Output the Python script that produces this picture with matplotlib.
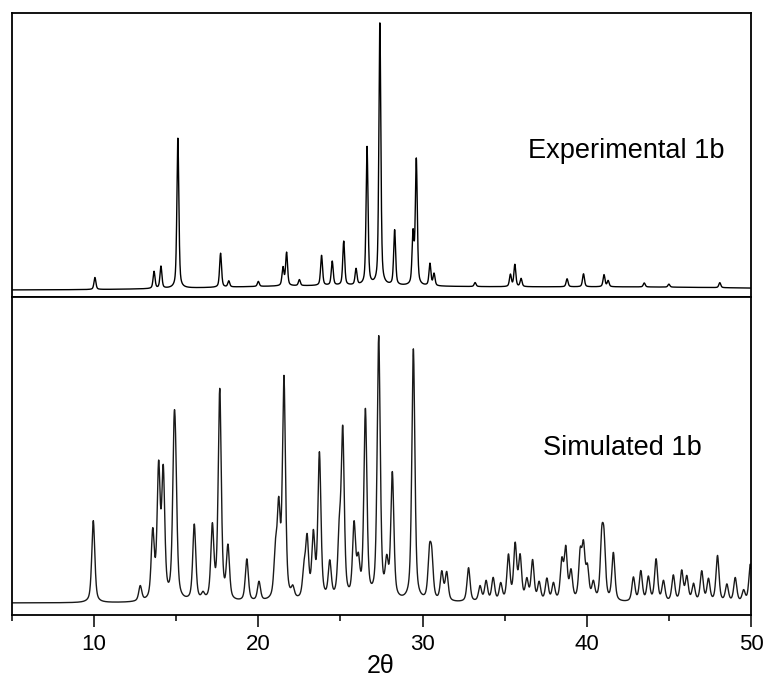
import numpy as np
import matplotlib.pyplot as plt

plt.rcParams['font.family'] = ['Liberation Sans', 'DejaVu Sans']

# peak positions (2theta) and heights
exp_pos = [10.05, 13.65, 14.07, 15.10, 17.70, 18.20, 20.00, 21.50, 21.72, 22.50,
           23.85, 24.50, 25.20, 25.95, 26.62, 27.40, 28.30, 29.42, 29.62, 30.45,
           30.70, 33.20, 35.35, 35.62, 36.00, 38.80, 39.80, 41.05, 41.30, 43.50,
           45.00, 48.10]
exp_h = [12, 17, 22, 150, 34, 6, 5, 18, 33, 6,
         30, 24, 44, 16, 138, 262, 55, 50, 125, 22,
         12, 4, 12, 22, 8, 8, 13, 12, 6, 4,
         3, 5]
# broad amorphous background humps
bg_pos = [24.0, 42.0]
bg_h = [4.0, 3.0]
bg_w = [16.0, 20.0]

sim_pos = [9.95, 12.81, 13.57, 13.93, 14.21, 14.87, 14.97, 16.10, 16.63, 17.20,
           17.65, 18.15, 19.30, 20.04, 21.04, 21.24, 21.56, 22.10, 22.78, 22.97,
           23.35, 23.72, 24.35, 24.93, 25.14, 25.83, 26.09, 26.52, 27.33, 27.82,
           28.16, 29.44, 30.42, 30.56, 31.17, 31.47, 32.80, 33.50, 33.87, 34.30,
           34.76, 35.23, 35.64, 35.94, 36.35, 36.70, 37.10, 37.57, 37.97, 38.48,
           38.72, 39.04, 39.60, 39.80, 40.04, 40.40, 40.91, 41.05, 41.62, 42.84,
           43.29, 43.75, 44.22, 44.67, 45.27, 45.78, 46.09, 46.50, 47.00, 47.41,
           47.96, 48.53, 49.04, 49.55, 49.96]
sim_h = [82, 15, 66, 128, 124, 138, 82, 76, 6, 72,
         210, 52, 42, 19, 42, 85, 220, 10, 26, 58,
         62, 145, 36, 58, 165, 72, 34, 188, 262, 33,
         125, 252, 42, 38, 28, 28, 34, 15, 20, 23,
         17, 45, 55, 43, 20, 40, 18, 22, 17, 38,
         50, 28, 44, 50, 30, 17, 55, 52, 48, 24,
         30, 24, 42, 20, 26, 30, 24, 17, 30, 22,
         46, 17, 24, 11, 38]

xticks = [10, 20, 30, 40, 50]


def pvoigt(x, pos, h, fwhm, eta):
    y = np.zeros_like(x)
    for p, a in zip(pos, h):
        d = (x - p) / (fwhm / 2)
        lor = 1 / (1 + d**2)
        gau = np.exp(-np.log(2) * d**2)
        y += a * (eta * lor + (1 - eta) * gau)
    return y


tt = np.arange(5, 50.0001, 0.01)
exp_y = pvoigt(tt, exp_pos, exp_h, 0.14, 0.5)
for p, a, w in zip(bg_pos, bg_h, bg_w):
    exp_y += a * np.exp(-np.log(2) * ((tt - p) / (w / 2))**2)
sim_y = pvoigt(tt, sim_pos, sim_h, 0.22, 0.55)

fig = plt.figure(figsize=(7.69, 6.84), dpi=100)
ax1 = fig.add_axes([0.0156, 0.5658, 0.961, 0.4152])
ax2 = fig.add_axes([0.0156, 0.1009, 0.961, 0.4649])

ax1.plot(tt, exp_y, color='black', lw=1.0)
ax2.plot(tt, sim_y, color='#1a1a1a', lw=1.0)

ax1.set_xlim(5, 50)
ax2.set_xlim(5, 50)
ax1.set_ylim(-7, 277)
ax2.set_ylim(-12, 306)

for ax in (ax1, ax2):
    for s in ax.spines.values():
        s.set_linewidth(1.3)
    ax.set_yticks([])

ax1.set_xticks([])
ax2.set_xticks(xticks)
ax2.set_xticks(np.arange(5, 51, 10), minor=True)
ax2.tick_params(axis='x', which='major', direction='out', length=8.6, width=1.1,
                labelsize=16, pad=5)
ax2.tick_params(axis='x', which='minor', direction='out', length=4.3, width=1.1)

ax1.text(0.698, 0.489, 'Experimental 1b', transform=ax1.transAxes,
         fontsize=19.5, va='baseline', ha='left')
ax2.text(0.7186, 0.503, 'Simulated 1b', transform=ax2.transAxes,
         fontsize=19.5, va='baseline', ha='left')

fig.text(0.4955, 1 - 666 / 684, '2θ', fontsize=18, ha='center', va='center')

fig.savefig('out.png', dpi=100)
